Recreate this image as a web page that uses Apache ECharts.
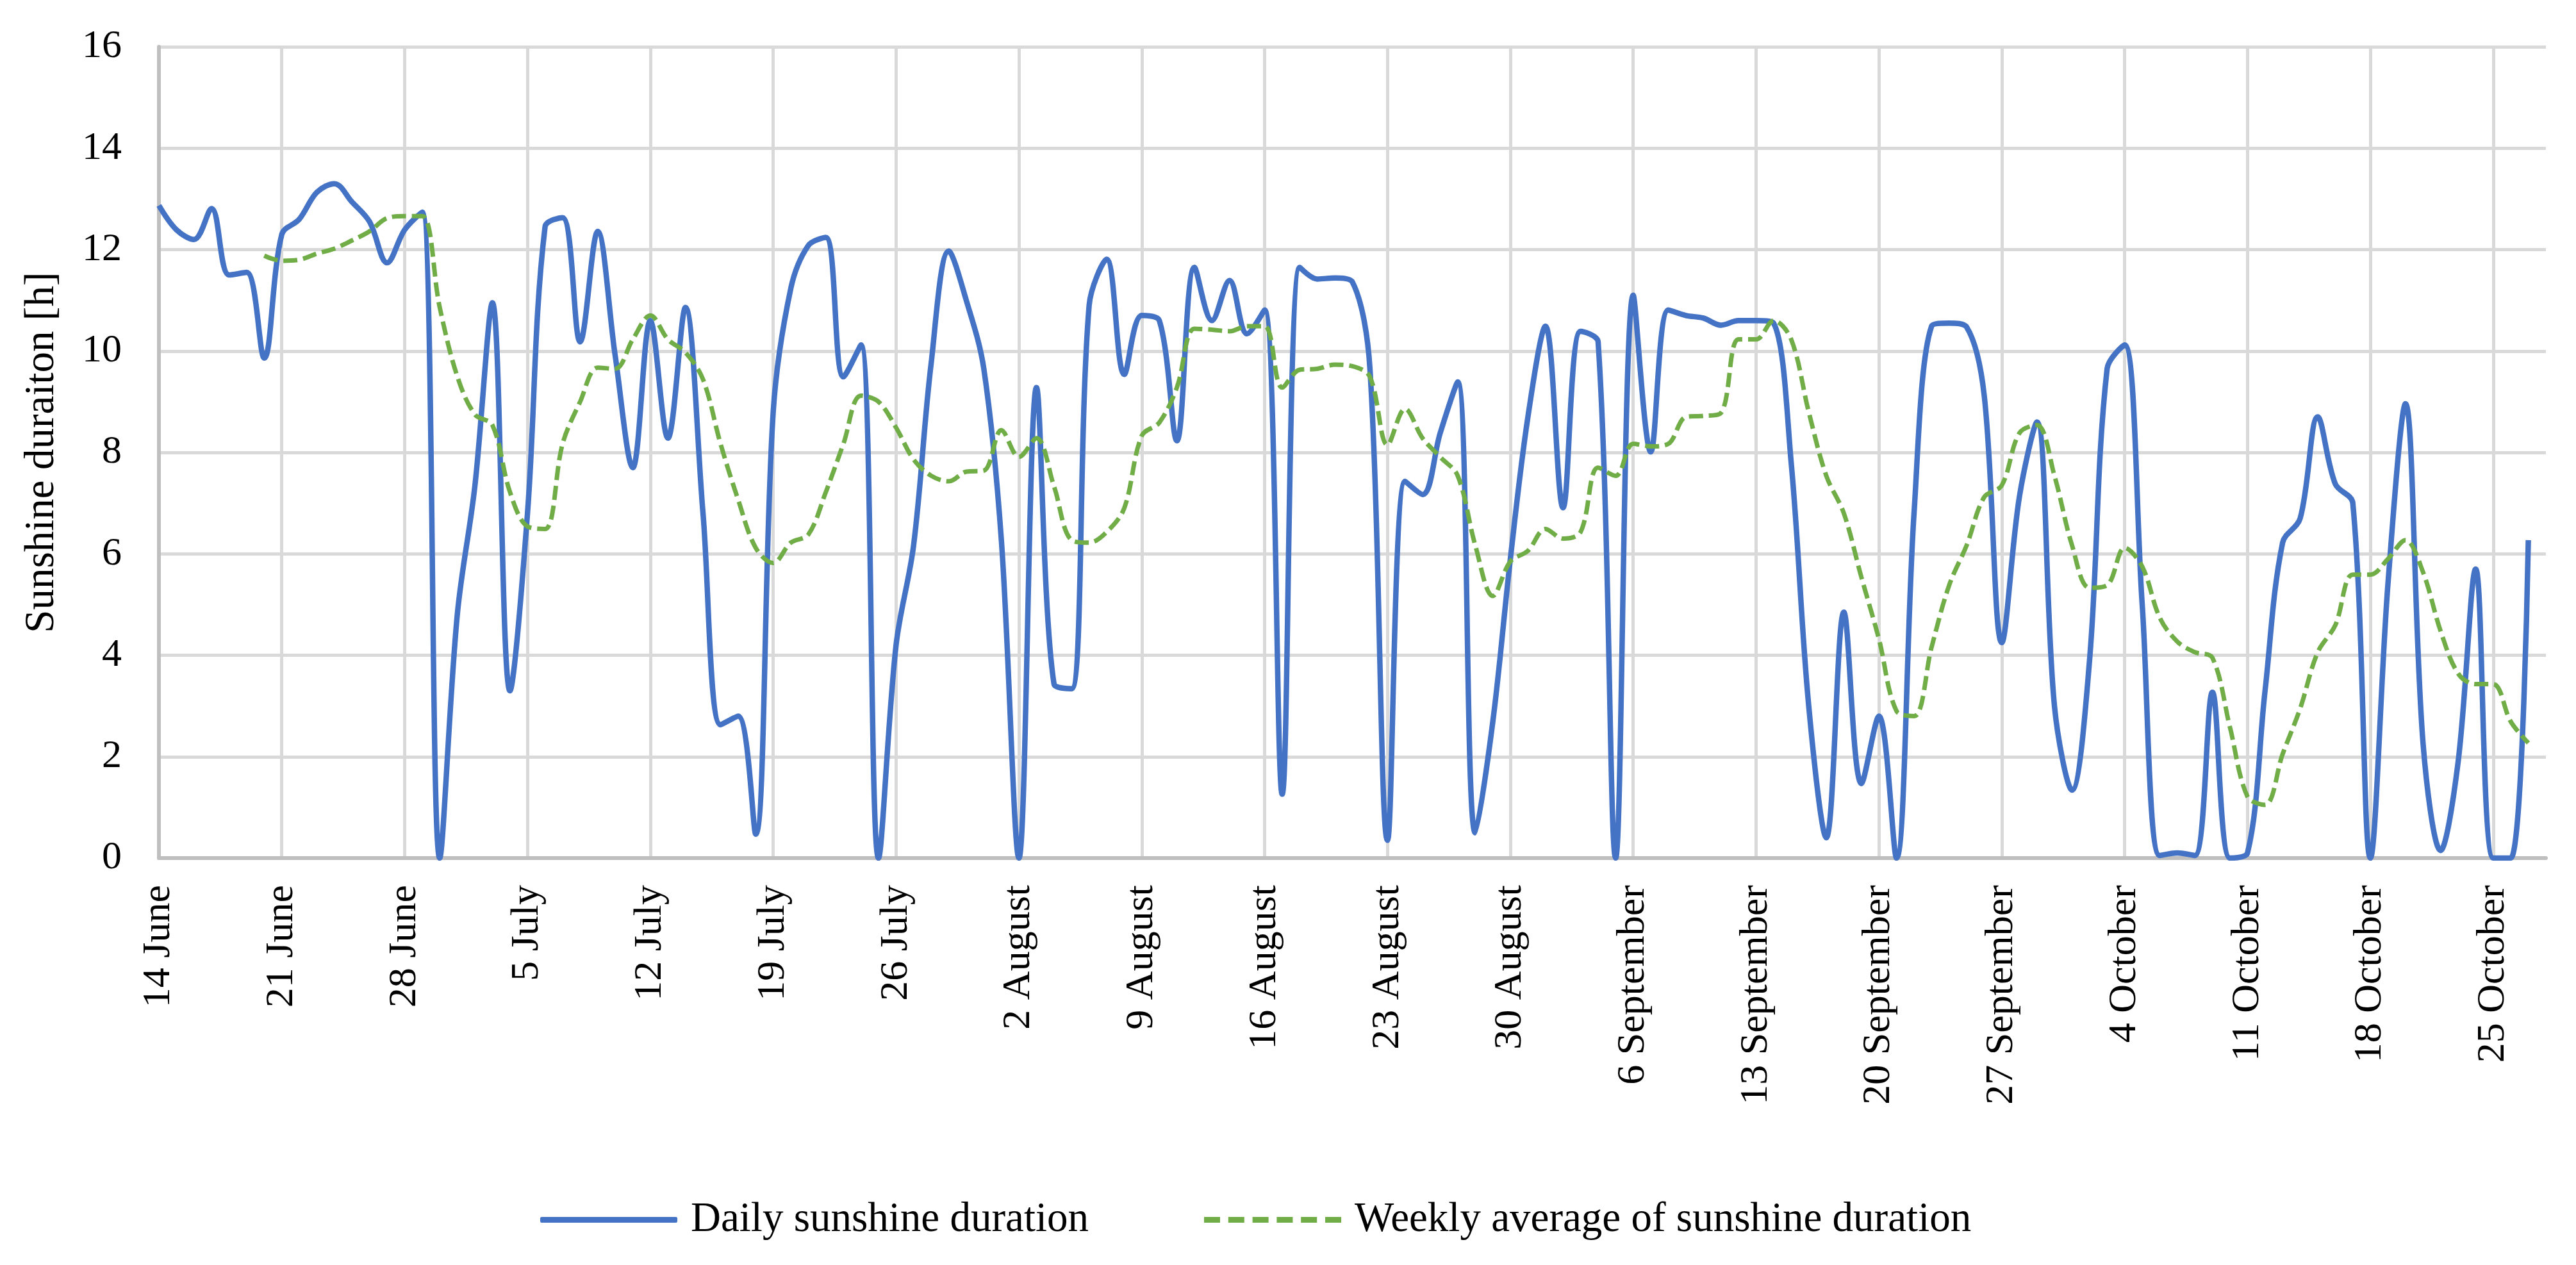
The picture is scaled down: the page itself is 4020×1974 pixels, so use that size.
<!DOCTYPE html>
<html>
<head>
<meta charset="utf-8">
<script src="https://cdn.jsdelivr.net/npm/echarts@6/dist/echarts.min.js"></script>
<style>
html,body{margin:0;padding:0;background:#fff;}
#chart{width:4020px;height:1974px;}
</style>
</head>
<body>
<div id="chart"></div>
<script>
// Month names and lengths used to build the daily category labels (14 June .. 28 October)
const monthNames = ['June', 'July', 'August', 'September', 'October'];
const monthDays = [30, 31, 31, 30, 31];
const startDay = 14;
const dayCount = 137;

// Daily sunshine duration [h], 14 June .. 27 October
const dailySunshine = [
  12.87, 12.39, 12.2, 12.81, 11.5, 11.55, 9.86,
  12.3, 12.6, 13.13, 13.3, 12.94, 12.55, 11.74,
  12.39, 12.74, 0, 4.8, 7.33, 10.95, 3.3,
  6.8, 12.45, 12.63, 10.18, 12.36, 9.9, 7.7,
  10.6, 8.28, 10.86, 6.8, 2.63, 2.8, 0.47,
  8.8, 11.23, 12.08, 12.24, 9.49, 10.12, 0,
  4.2, 6.17, 9.76, 11.97, 11.0, 9.65, 6.27,
  0, 9.28, 3.43, 3.34, 10.9, 11.81, 9.54,
  10.7, 10.6, 8.23, 11.65, 10.6, 11.39, 10.34,
  10.81, 1.26, 11.65, 11.42, 11.44, 11.36, 9.65,
  0.35, 7.43, 7.17, 8.38, 9.39, 0.5, 2.69,
  5.9, 8.7, 10.49, 6.91, 10.39, 10.18, 0,
  11.1, 8.01, 10.81, 10.7, 10.65, 10.51, 10.6,
  10.6, 10.55, 7.8, 3.0, 0.4, 4.85, 1.47,
  2.8, 0, 6.8, 10.49, 10.55, 10.47, 9.12,
  4.25, 7.12, 8.6, 3.0, 1.34, 3.9, 9.65,
  10.12, 5.0, 0.05, 0.1, 0.05, 3.27, 0,
  0.1, 3.3, 6.22, 6.7, 8.7, 7.38, 7.0,
  0, 5.4, 8.96, 2.27, 0.15, 1.9, 5.7,
  0, 0, 6.27, null
];

// Weekly average of sunshine duration [h], starts 20 June
const weeklyAverage = [
  null, null, null, null, null, null, 11.88,
  11.78, 11.8, 11.92, 12.02, 12.18, 12.36, 12.62,
  12.66, 12.66, 10.86, 9.5, 8.75, 8.54, 7.22,
  6.54, 6.49, 8.17, 9.0, 9.67, 9.65, 10.23,
  10.7, 10.23, 9.97, 9.44, 8.17, 7.07, 6.12,
  5.82, 6.22, 6.38, 7.22, 8.17, 9.12, 9.0,
  8.49, 7.86, 7.54, 7.43, 7.62, 7.64, 8.44,
  7.91, 8.28, 7.33, 6.27, 6.22, 6.43, 6.9,
  8.33, 8.59, 9.28, 10.44, 10.42, 10.39, 10.49,
  10.49, 9.28, 9.63, 9.65, 9.73, 9.7, 9.49,
  8.15, 8.86, 8.28, 7.91, 7.54, 6.17, 5.17,
  5.85, 6.06, 6.49, 6.3, 6.43, 7.7, 7.54,
  8.17, 8.12, 8.17, 8.7, 8.72, 8.78, 10.23,
  10.23, 10.6, 10.23, 8.8, 7.54, 6.8, 5.54,
  4.32, 2.9, 2.8, 4.16, 5.38, 6.17, 7.12,
  7.35, 8.38, 8.54, 7.54, 6.17, 5.33, 5.38,
  6.12, 5.75, 4.74, 4.27, 4.06, 3.95, 2.58,
  1.21, 1.05, 2.05, 2.95, 4.06, 4.59, 5.59,
  5.59, 5.9, 6.27, 5.64, 4.48, 3.64, 3.43,
  3.43, 2.69, 2.27, null
];

// y-axis ticks
const yMin = 0, yMax = 16, yStep = 2;
const seriesNames = ['Daily sunshine duration', 'Weekly average of sunshine duration'];

// build category labels
const categories = [];
let m = 0, d = startDay;
for (let i = 0; i < dayCount; i++) {
  categories.push(d + ' ' + monthNames[m]);
  d++;
  if (d > monthDays[m]) { d = 1; m++; }
}

const FONT = '"Liberation Serif", "Times New Roman", serif';
const dashIcon = 'path://M0,0h25v9h-25z M37.8,0h25v9h-25z M75.6,0h25v9h-25z M113.4,0h25v9h-25z M151.2,0h25v9h-25z M189,0h25v9h-25z';
const chart = echarts.init(document.getElementById('chart'));
chart.setOption({
  animation: false,
  backgroundColor: '#ffffff',
  textStyle: { fontFamily: FONT, color: '#000' },
  grid: { left: 248, right: 47, top: 73, bottom: 635, containLabel: false },
  legend: {
    left: 838,
    top: 1866,
    itemWidth: 214,
    itemHeight: 9,
    itemGap: 180,
    symbolKeepAspect: false,
    textStyle: { fontFamily: FONT, fontSize: 65, color: '#000', padding: [0, 0, 0, 16] },
    data: [
      { name: seriesNames[0], icon: 'roundRect' },
      { name: seriesNames[1], icon: dashIcon }
    ]
  },
  xAxis: {
    type: 'category',
    data: categories,
    boundaryGap: false,
    axisLine: { show: true, lineStyle: { color: '#bfbfbf', width: 6 } },
    axisTick: { show: false, interval: 6 },
    axisLabel: {
      interval: 6,
      rotate: 90,
      margin: 42,
      fontFamily: FONT,
      fontSize: 62,
      color: '#000'
    },
    splitLine: { show: true, interval: 6, lineStyle: { color: '#d9d9d9', width: 5 } }
  },
  yAxis: {
    type: 'value',
    min: yMin,
    max: yMax,
    interval: yStep,
    name: 'Sunshine duraiton [h]',
    nameLocation: 'middle',
    nameGap: 150,
    nameRotate: 90,
    nameTextStyle: { fontFamily: FONT, fontSize: 65, color: '#000' },
    axisLine: { show: true, lineStyle: { color: '#bfbfbf', width: 6 } },
    axisTick: { show: false },
    axisLabel: { margin: 58, fontFamily: FONT, fontSize: 62, color: '#000' },
    splitLine: { show: true, lineStyle: { color: '#d9d9d9', width: 5 } }
  },
  series: [
    {
      name: seriesNames[0],
      type: 'line',
      data: dailySunshine,
      smooth: 0.35,
      showSymbol: false,
      symbol: 'none',
      connectNulls: false,
      lineStyle: { color: '#4472C4', width: 8.5 },
      itemStyle: { color: '#4472C4' },
      z: 3
    },
    {
      name: seriesNames[1],
      type: 'line',
      data: weeklyAverage,
      smooth: 0.35,
      showSymbol: false,
      symbol: 'none',
      connectNulls: false,
      lineStyle: { color: '#70AD47', width: 7, type: [22, 9] },
      itemStyle: { color: '#70AD47' },
      z: 4
    }
  ]
});
</script>
</body>
</html>
